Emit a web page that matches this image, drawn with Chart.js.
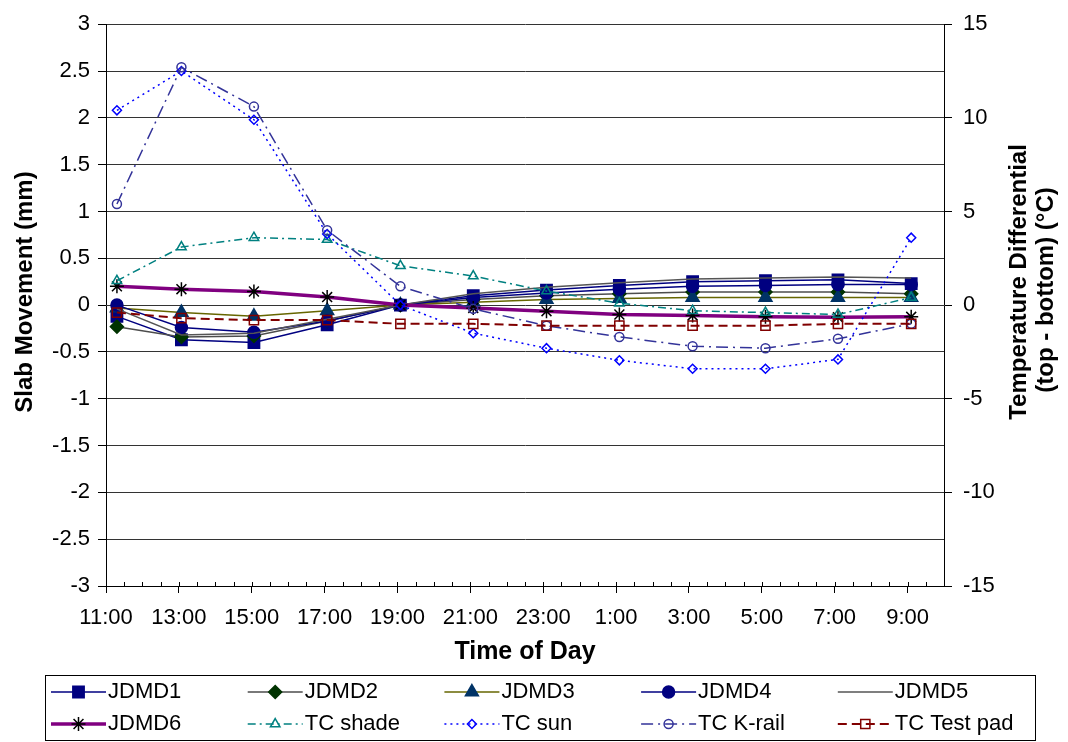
<!DOCTYPE html>
<html>
<head>
<meta charset="utf-8">
<script src="https://cdn.jsdelivr.net/npm/chart.js@4.4.1/dist/chart.umd.min.js"></script>
<style>
  body { margin: 0; background: #fff; }
  #chart { display: block; }
</style>
</head>
<body>
<canvas id="chart" width="1068" height="742"></canvas>
<script>
// time of reading, in hours from midnight of day 1 (25 = 1:00 next day)
const times = [11.3, 13.07, 15.06, 17.07, 19.08, 21.08, 23.09, 25.09, 27.1, 29.1, 31.09, 33.1];

// slab movement (mm), left axis
const jdmd1 = [-0.12, -0.37, -0.40, -0.21, 0, 0.10, 0.16, 0.21, 0.25, 0.26, 0.27, 0.23];
const jdmd2 = [-0.23, -0.34, -0.33, -0.17, 0, 0.06, 0.10, 0.12, 0.14, 0.14, 0.14, 0.12];
const jdmd3 = [-0.03, -0.08, -0.12, -0.06, 0, 0.03, 0.06, 0.07, 0.08, 0.08, 0.08, 0.08];
const jdmd4 = [0.0, -0.24, -0.29, -0.17, 0, 0.08, 0.13, 0.17, 0.20, 0.21, 0.22, 0.22];
const jdmd5 = [-0.04, -0.32, -0.30, -0.15, 0, 0.12, 0.19, 0.24, 0.28, 0.29, 0.30, 0.29];
const jdmd6 = [0.20, 0.17, 0.145, 0.086, 0, -0.03, -0.065, -0.10, -0.11, -0.125, -0.13, -0.125];

// temperature differential (°C), right axis
const tcShade = [1.3, 3.1, 3.6, 3.5, 2.1, 1.55, 0.75, 0.1, -0.3, -0.4, -0.5, 0.4];
const tcSun = [10.4, 12.5, 9.9, 3.8, 0, -1.5, -2.3, -2.95, -3.4, -3.4, -2.9, 3.6];
const tcKrail = [5.4, 12.7, 10.6, 4.0, 1.0, -0.2, -1.1, -1.7, -2.2, -2.3, -1.8, -1.0];
const tcTestPad = [-0.4, -0.7, -0.8, -0.8, -1.0, -1.0, -1.1, -1.1, -1.1, -1.1, -1.0, -1.0];

const FONT = "'Liberation Sans', Arial, sans-serif";
const NONE = 'rgba(0,0,0,0)';

function pts(arr) {
    return arr.map((v, i) => ({ x: times[i], y: v }));
}

// one entry per series: label, values, axis, line and marker style
function series(label, values, axis, line, dash, width, style, radius, fill, stroke) {
    return {
        label: label,
        data: pts(values),
        yAxisID: axis,
        borderColor: line,
        borderDash: dash,
        borderWidth: width,
        pointStyle: style,
        pointRadius: radius,
        pointHoverRadius: radius,
        pointBackgroundColor: fill,
        pointBorderColor: stroke,
        pointBorderWidth: 1.5,
        tension: 0,
        fill: false
    };
}

const datasets = [
    series('JDMD1', jdmd1, 'y', '#000080', [], 1.5, 'rect', 8, '#000080', '#000080'),
    series('JDMD2', jdmd2, 'y', '#4d4d4d', [], 1.5, 'rectRot', 6.5, '#003300', '#003300'),
    series('JDMD3', jdmd3, 'y', '#666600', [], 1.5, 'triangle', 7.5, '#003366', '#003366'),
    series('JDMD4', jdmd4, 'y', '#000080', [], 1.5, 'circle', 6, '#000080', '#000080'),
    series('JDMD5', jdmd5, 'y', '#555555', [], 1.5, false, 0, NONE, NONE),
    series('JDMD6', jdmd6, 'y', '#800080', [], 3.5, 'star', 7, '#000000', '#000000'),
    series('TC shade', tcShade, 'y1', '#008080', [8, 4, 2, 4], 1.5, 'triangle', 5.5, NONE, '#008080'),
    series('TC sun', tcSun, 'y1', '#0000ff', [2, 4], 1.5, 'rectRot', 4.5, NONE, '#0000ff'),
    series('TC K-rail', tcKrail, 'y1', '#333399', [12, 5, 2, 5], 1.5, 'circle', 4.5, NONE, '#333399'),
    series('TC Test pad', tcTestPad, 'y1', '#800000', [9, 5], 2, 'rect', 6.5, NONE, '#800000')
];
// later series on top, like the original
datasets.forEach((d, i) => { d.order = 10 - i; });

function isMajorHour(v) {
    return Math.abs((v - 11) % 2) < 1e-6;
}

// small inside tick marks on the time axis
const innerTicks = {
    id: 'innerTicks',
    afterDraw(chart) {
        const xs = chart.scales.x;
        const ctx = chart.ctx;
        const bottom = chart.chartArea.bottom;
        ctx.save();
        ctx.strokeStyle = '#000';
        ctx.lineWidth = 1;
        xs.ticks.forEach(t => {
            const px = Math.round(xs.getPixelForValue(t.value)) + 0.5;
            ctx.beginPath();
            ctx.moveTo(px, bottom - 4);
            ctx.lineTo(px, bottom);
            ctx.stroke();
        });
        ctx.restore();
    }
};

// axis titles drawn reading upward (left one and two-line right one)
const sideTitles = {
    id: 'sideTitles',
    afterDraw(chart) {
        const ctx = chart.ctx;
        ctx.save();
        ctx.fillStyle = '#000';
        ctx.font = 'bold 24px ' + FONT;
        ctx.textAlign = 'center';
        ctx.textBaseline = 'middle';
        ctx.save();
        ctx.translate(25, 292);
        ctx.rotate(-Math.PI / 2);
        ctx.fillText('Slab Movement (mm)', 0, 0);
        ctx.restore();
        ctx.translate(1019, 282);
        ctx.rotate(-Math.PI / 2);
        ctx.fillText('Temperature Differential', 0, 0);
        ctx.fillText('(top - bottom) (°C)', -8, 27);
        ctx.restore();
    }
};

// boxed legend, 5 columns x 2 rows, line with marker in the middle
const gridLegend = {
    id: 'gridLegend',
    afterDraw(chart) {
        const ctx = chart.ctx;
        ctx.save();
        ctx.strokeStyle = '#000';
        ctx.lineWidth = 1;
        ctx.strokeRect(45.5, 675.5, 990, 65);
        ctx.font = '22px ' + FONT;
        ctx.textBaseline = 'middle';
        ctx.textAlign = 'left';
        chart.data.datasets.forEach((d, i) => {
            const col = i % 5;
            const row = Math.floor(i / 5);
            const x0 = 51 + col * 196.7;
            const x1 = x0 + 55;
            const y = row === 0 ? 692 : 724;
            ctx.save();
            ctx.strokeStyle = d.borderColor;
            ctx.lineWidth = d.borderWidth;
            ctx.setLineDash(d.borderDash);
            ctx.beginPath();
            ctx.moveTo(x0, y);
            ctx.lineTo(x1, y);
            ctx.stroke();
            ctx.setLineDash([]);
            if (d.pointStyle) {
                ctx.fillStyle = d.pointBackgroundColor;
                ctx.strokeStyle = d.pointBorderColor;
                ctx.lineWidth = d.pointBorderWidth;
                Chart.helpers.drawPoint(ctx, {
                    pointStyle: d.pointStyle,
                    rotation: 0,
                    radius: d.pointRadius,
                    borderWidth: d.pointBorderWidth
                }, (x0 + x1) / 2, y);
            }
            ctx.restore();
            ctx.fillStyle = '#000';
            ctx.fillText(d.label, x1 + 2, y);
        });
        ctx.restore();
    }
};

new Chart(document.getElementById('chart'), {
    type: 'line',
    data: { datasets: datasets },
    options: {
        responsive: false,
        animation: false,
        layout: { padding: { top: 15, left: 0, right: 0, bottom: 66 } },
        plugins: {
            legend: { display: false },
            tooltip: { enabled: false }
        },
        scales: {
            x: {
                type: 'linear',
                min: 11,
                max: 34,
                afterFit(scale) { scale.height = 90; },
                border: { color: '#000', width: 1 },
                grid: {
                    drawOnChartArea: false,
                    tickLength: 7,
                    tickColor: c => isMajorHour(c.tick.value) ? '#000' : NONE
                },
                ticks: {
                    stepSize: 0.5,
                    autoSkip: false,
                    maxRotation: 0,
                    minRotation: 0,
                    padding: 12,
                    color: '#000',
                    font: { family: FONT, size: 22 },
                    callback: v => isMajorHour(v) ? (Math.round(v) % 24) + ':00' : ''
                },
                title: {
                    display: true,
                    text: 'Time of Day',
                    color: '#000',
                    font: { family: FONT, size: 25, weight: 'bold' },
                    padding: { top: 0, bottom: 9 }
                }
            },
            y: {
                position: 'left',
                min: -3,
                max: 3,
                afterFit(scale) { scale.width = 106; },
                border: { color: '#000', width: 1 },
                grid: {
                    color: '#333',
                    tickColor: '#000',
                    tickLength: 8
                },
                ticks: {
                    stepSize: 0.5,
                    padding: 8,
                    color: '#000',
                    font: { family: FONT, size: 22 },
                    callback: v => String(Math.round(v * 10) / 10)
                }
            },
            y1: {
                position: 'right',
                min: -15,
                max: 15,
                afterFit(scale) { scale.width = 124; },
                border: { color: '#000', width: 1 },
                grid: {
                    drawOnChartArea: false,
                    tickColor: '#000',
                    tickLength: 8
                },
                ticks: {
                    stepSize: 5,
                    padding: 11,
                    color: '#000',
                    font: { family: FONT, size: 22 }
                }
            }
        }
    },
    plugins: [innerTicks, sideTitles, gridLegend]
});
</script>
</body>
</html>
